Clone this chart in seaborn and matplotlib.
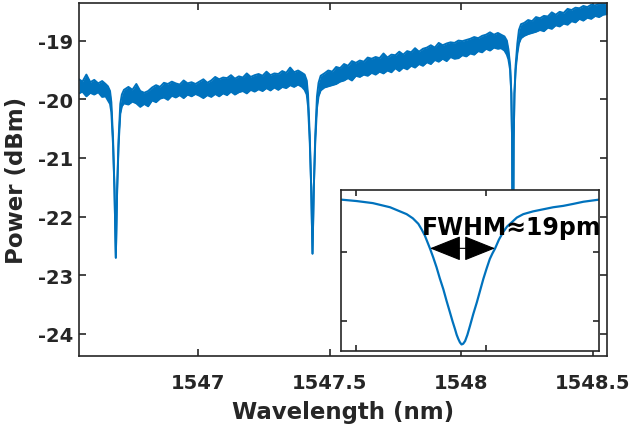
import matplotlib
matplotlib.use('Agg')
import matplotlib.pyplot as plt
import seaborn as sns

# transmission spectrum: upper / lower edge of the noisy trace (dBm)
wavelength = [
    1546.547, 1546.560, 1546.575, 1546.590, 1546.605, 1546.620, 1546.635, 1546.648,
    1546.657, 1546.665, 1546.670, 1546.6765, 1546.682, 1546.6855, 1546.687, 1546.6885, 1546.692, 1546.6975, 1546.704, 1546.710, 1546.718,
    1546.735, 1546.750, 1546.765, 1546.780, 1546.795, 1546.810, 1546.825, 1546.840, 1546.855,
    1546.870, 1546.885, 1546.900, 1546.915, 1546.930, 1546.945, 1546.960, 1546.975, 1546.990,
    1547.005, 1547.020, 1547.035, 1547.050, 1547.065, 1547.080, 1547.095, 1547.110, 1547.125, 1547.140,
    1547.155, 1547.170, 1547.185, 1547.200, 1547.215, 1547.230, 1547.245, 1547.260, 1547.275, 1547.290,
    1547.305, 1547.320, 1547.335, 1547.350, 1547.365, 1547.380, 1547.395,
    1547.405, 1547.413, 1547.418, 1547.4245, 1547.430, 1547.4335, 1547.435, 1547.4365, 1547.440, 1547.4455, 1547.452, 1547.458, 1547.466,
    1547.480, 1547.495, 1547.510, 1547.525, 1547.540, 1547.555, 1547.570, 1547.585, 1547.600, 1547.615,
    1547.630, 1547.645, 1547.660, 1547.675, 1547.690, 1547.705, 1547.720, 1547.735, 1547.750, 1547.765,
    1547.780, 1547.795, 1547.810, 1547.825, 1547.840, 1547.855, 1547.870, 1547.885, 1547.900, 1547.915,
    1547.930, 1547.945, 1547.960, 1547.975, 1547.990, 1548.005, 1548.020, 1548.035, 1548.050, 1548.065,
    1548.080, 1548.095, 1548.110, 1548.125, 1548.140, 1548.152,
    1548.165, 1548.174, 1548.180, 1548.1865, 1548.191, 1548.194, 1548.197, 1548.200, 1548.203, 1548.2075, 1548.214, 1548.220, 1548.228,
    1548.240, 1548.255, 1548.270, 1548.285, 1548.300, 1548.315, 1548.330, 1548.345, 1548.360, 1548.375,
    1548.390, 1548.405, 1548.420, 1548.435, 1548.450, 1548.465, 1548.480, 1548.495, 1548.510, 1548.525,
    1548.540, 1548.555]

upper = [
    -19.66, -19.70, -19.58, -19.71, -19.67, -19.73, -19.69, -19.74,
    -19.78, -19.86, -20.05, -20.68, -21.55, -22.35, -22.70, -22.35, -21.55, -20.68, -20.08, -19.92, -19.84,
    -19.79, -19.84, -19.74, -19.86, -19.89, -19.86, -19.80, -19.76, -19.79,
    -19.72, -19.74, -19.70, -19.73, -19.75, -19.68, -19.73, -19.71, -19.74,
    -19.70, -19.66, -19.72, -19.68, -19.62, -19.66, -19.63, -19.64, -19.59, -19.65,
    -19.61, -19.63, -19.56, -19.62, -19.59, -19.57, -19.60, -19.53, -19.59, -19.56,
    -19.57, -19.52, -19.55, -19.46, -19.54, -19.51, -19.55,
    -19.58, -19.68, -19.92, -20.62, -21.50, -22.30, -22.63, -22.30, -21.50, -20.62, -19.95, -19.72, -19.60,
    -19.56, -19.51, -19.53, -19.45, -19.47, -19.40, -19.43, -19.35, -19.38, -19.34,
    -19.36, -19.29, -19.31, -19.28, -19.30, -19.22, -19.29, -19.24, -19.25, -19.19,
    -19.24, -19.18, -19.20, -19.13, -19.19, -19.14, -19.12, -19.08, -19.12, -19.04,
    -19.08, -19.05, -19.03, -19.04, -19.00, -19.01, -18.99, -18.97, -18.94, -18.96,
    -18.92, -18.90, -18.86, -18.90, -18.87, -18.90,
    -18.93, -19.00, -19.15, -19.42, -19.90, -20.70, -23.80, -20.70, -19.90, -19.42, -19.05, -18.82, -18.72,
    -18.70, -18.65, -18.67, -18.60, -18.62, -18.58, -18.59, -18.52, -18.56, -18.51,
    -18.53, -18.46, -18.48, -18.44, -18.45, -18.41, -18.43, -18.39, -18.40, -18.37,
    -18.38, -18.37]

lower = [
    -19.90, -19.87, -19.95, -19.89, -19.92, -19.88, -19.96, -19.95,
    -20.02, -20.08, -20.22, -20.78, -21.55, -22.35, -22.70, -22.35, -21.55, -20.78, -20.25, -20.12, -20.07,
    -20.09, -20.04, -20.07, -20.13, -20.08, -20.12, -20.02, -20.05, -19.99,
    -19.97, -20.01, -19.94, -19.97, -19.93, -19.98, -19.92, -19.95, -19.91,
    -19.94, -19.98, -19.93, -19.96, -19.91, -19.95, -19.90, -19.93, -19.87, -19.92,
    -19.88, -19.86, -19.90, -19.84, -19.87, -19.83, -19.86, -19.81, -19.85, -19.80,
    -19.84, -19.79, -19.81, -19.76, -19.79, -19.75, -19.79,
    -19.84, -19.92, -20.12, -20.72, -21.50, -22.30, -22.63, -22.30, -21.50, -20.72, -20.15, -19.95, -19.85,
    -19.80, -19.78, -19.76, -19.74, -19.70, -19.68, -19.64, -19.68, -19.60, -19.62,
    -19.58, -19.60, -19.55, -19.58, -19.53, -19.56, -19.51, -19.54, -19.47, -19.52,
    -19.46, -19.49, -19.43, -19.46, -19.40, -19.43, -19.37, -19.40, -19.33, -19.36,
    -19.31, -19.35, -19.28, -19.31, -19.30, -19.25, -19.27, -19.22, -19.24, -19.18,
    -19.20, -19.14, -19.17, -19.12, -19.14, -19.13,
    -19.17, -19.24, -19.32, -19.50, -19.90, -20.70, -23.80, -20.70, -19.90, -19.50, -19.22, -19.05, -18.96,
    -18.92, -18.89, -18.87, -18.85, -18.82, -18.84, -18.78, -18.80, -18.74, -18.76,
    -18.71, -18.73, -18.67, -18.69, -18.63, -18.66, -18.61, -18.63, -18.58, -18.60,
    -18.56, -18.55]

# zoomed resonance shown in the inset
inset_wl = [1548.1656, 1548.1702, 1548.1752, 1548.1805, 1548.1856, 1548.1875, 1548.1892,
            1548.1902, 1548.1912, 1548.1928, 1548.1938, 1548.1948, 1548.1958, 1548.1969,
            1548.1979, 1548.1989, 1548.1997, 1548.2005, 1548.2010, 1548.2015, 1548.2020,
            1548.2025, 1548.2030, 1548.2036, 1548.2043, 1548.2051, 1548.2061, 1548.2072,
            1548.2082, 1548.2092, 1548.2102, 1548.2112, 1548.2120, 1548.2128, 1548.2140,
            1548.2153, 1548.2165, 1548.2179, 1548.2195, 1548.2215, 1548.2245, 1548.2276,
            1548.2307, 1548.2338, 1548.2370, 1548.2400, 1548.2447]
inset_power = [-21.24, -21.26, -21.29, -21.35, -21.45, -21.51, -21.59,
               -21.67, -21.76, -21.95, -22.08, -22.22, -22.38, -22.54,
               -22.71, -22.87, -23.00, -23.12, -23.20, -23.26, -23.31,
               -23.34, -23.33, -23.29, -23.20, -23.07, -22.90, -22.73,
               -22.56, -22.39, -22.24, -22.10, -22.02, -21.95, -21.82,
               -21.71, -21.63, -21.57, -21.50, -21.45, -21.41, -21.38,
               -21.35, -21.33, -21.30, -21.27, -21.24]
fwhm_left = 1548.1928
fwhm_right = 1548.2128
fwhm_level = -21.946

xticks = [1547, 1547.5, 1548, 1548.5]
xtick_labels = ['1547', '1547.5', '1548', '1548.5']
yticks = [-24, -23, -22, -21, -20, -19]
ytick_labels = ['-24', '-23', '-22', '-21', '-20', '-19']

assert len(wavelength) == len(upper) == len(lower)
assert len(inset_wl) == len(inset_power)

blue = '#0072BD'
dark = '#262626'

sns.set_theme(style='ticks')
plt.rcParams['font.family'] = ['DejaVu Sans']
plt.rcParams['font.weight'] = 'bold'

fig = plt.figure(figsize=(6.31, 4.31), dpi=100)
ax = fig.add_axes([0.1252, 0.1717, 0.8368, 0.8190])

# noisy trace: filled band between the two edges, edges drawn as lines
ax.fill_between(wavelength, lower, upper, color=blue, lw=0)
sns.lineplot(x=wavelength, y=upper, ax=ax, color=blue, lw=1.4, estimator=None, sort=False)
sns.lineplot(x=wavelength, y=lower, ax=ax, color=blue, lw=1.4, estimator=None, sort=False)

ax.set_xlim(1546.547, 1548.555)
ax.set_ylim(-24.375, -18.36)
ax.set_xticks(xticks)
ax.set_xticklabels(xtick_labels)
ax.set_yticks(yticks)
ax.set_yticklabels(ytick_labels)
ax.tick_params(axis='both', direction='in', length=5, width=1.2, colors=dark,
               top=True, right=True, labelsize=14)
ax.tick_params(axis='x', pad=12)
ax.tick_params(axis='y', pad=4)
for s in ax.spines.values():
    s.set_color(dark)
    s.set_linewidth(1.2)
ax.set_xlabel('Wavelength (nm)', fontsize=16.5, fontweight='bold', color=dark, labelpad=6)
ax.set_ylabel('Power (dBm)', fontsize=16.5, fontweight='bold', color=dark, labelpad=7)

# inset with the zoomed resonance
axi = fig.add_axes([0.5404, 0.1833, 0.4089, 0.3735])
axi.set_facecolor('white')
sns.lineplot(x=inset_wl, y=inset_power, ax=axi, color=blue, lw=1.6, estimator=None, sort=False)
axi.set_xlim(1548.1654, 1548.2448)
axi.set_ylim(-23.435, -21.10)
axi.set_xticks([1548.17, 1548.21])
axi.set_yticks([-23, -22])
axi.tick_params(axis='both', direction='in', length=4, width=1.2, colors=dark,
                top=True, right=True, labelbottom=False, labelleft=False)
for s in axi.spines.values():
    s.set_color(dark)
    s.set_linewidth(1.2)
axi.set_xlabel('')
axi.set_ylabel('')

axi.annotate('', xy=(fwhm_left, fwhm_level), xytext=(fwhm_right, fwhm_level),
             arrowprops=dict(arrowstyle='<|-|>,head_length=2,head_width=0.8',
                             mutation_scale=10, color='black', lw=0.8,
                             shrinkA=0, shrinkB=0))
axi.text(1548.1903, -21.74, 'FWHM\u224819pm', fontsize=17, fontweight='bold',
         color='black', ha='left', va='baseline')

fig.savefig('out.png', dpi=100)
